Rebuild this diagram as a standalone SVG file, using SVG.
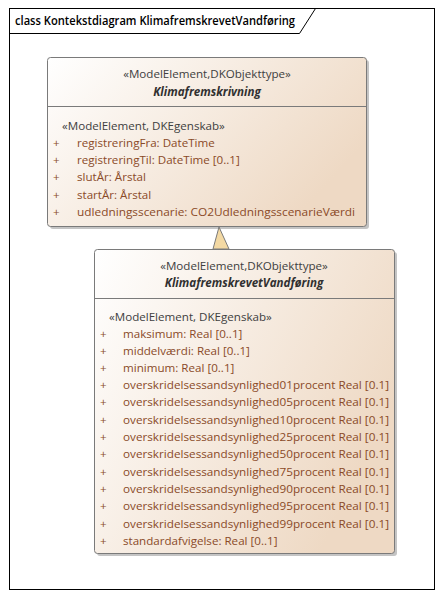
<svg xmlns="http://www.w3.org/2000/svg" width="443" height="598" viewBox="0 0 443 598">
<style>
text{font-family:"Open Sans","Noto Sans","Liberation Sans",sans-serif;font-size:11.6px}
.st{fill:#404040}
.nm{font-weight:bold;font-style:italic;fill:#303030}
.at{fill:#8a4a28}
.pl{fill:#8a4a28}
.box{fill:url(#g);stroke:#7a7a7a;stroke-width:1}
.sh{fill:#c4c4c4}
.div{stroke:#7a7a7a;stroke-width:1}
</style>
<defs>
<linearGradient id="g" x1="0" y1="0" x2="1" y2="0.5">
<stop offset="0" stop-color="#ffffff"/>
<stop offset="1" stop-color="#eed9c4"/>
</linearGradient>
</defs>
<rect x="0" y="0" width="443" height="598" fill="#ffffff"/>
<g id="frame">
<rect x="9.5" y="8.5" width="425" height="581" fill="none" stroke="#000" stroke-width="1"/>
<path d="M9.5 33.5 H299.5 L315.5 8.5" fill="none" stroke="#000" stroke-width="1"/>
<text x="15" y="25" style="font-weight:600;font-size:12px" fill="#000" textLength="280" lengthAdjust="spacingAndGlyphs">class Kontekstdiagram KlimafremskrevetVandføring</text>
</g>
<g id="Klimafremskrivning">
<rect class="sh" x="50" y="60" width="319" height="169" rx="3"/>
<rect class="box" x="47.5" y="57.5" width="319" height="169" rx="3"/>
<line class="div" x1="47.5" y1="106.5" x2="366.5" y2="106.5"/>
<text class="st" x="207" y="78" text-anchor="middle">«ModelElement,DKObjekttype»</text>
<text class="nm" x="207" y="96" text-anchor="middle">Klimafremskrivning</text>
<text class="st" x="62" y="130">«ModelElement, DKEgenskab»</text>
<text class="pl" x="53" y="147">+</text><text class="at" x="77" y="147">registreringFra: DateTime</text>
<text class="pl" x="53" y="164">+</text><text class="at" x="77" y="164">registreringTil: DateTime [0..1]</text>
<text class="pl" x="53" y="181">+</text><text class="at" x="77" y="181">slutÅr: Årstal</text>
<text class="pl" x="53" y="199">+</text><text class="at" x="77" y="199">startÅr: Årstal</text>
<text class="pl" x="53" y="216">+</text><text class="at" x="77" y="216" textLength="278" lengthAdjust="spacingAndGlyphs">udledningsscenarie: CO2UdledningsscenarieVærdi</text>
</g>
<g id="KlimafremskrevetVandforing">
<rect class="sh" x="97" y="252" width="300" height="304" rx="3"/>
<rect class="box" x="94.5" y="249.5" width="300" height="304" rx="3"/>
<line class="div" x1="94.5" y1="298.5" x2="394.5" y2="298.5"/>
<text class="st" x="244" y="270" text-anchor="middle">«ModelElement,DKObjekttype»</text>
<text class="nm" x="244" y="287" text-anchor="middle">KlimafremskrevetVandføring</text>
<text class="st" x="109" y="321">«ModelElement, DKEgenskab»</text>
<text class="pl" x="100" y="338">+</text><text class="at" x="123" y="338">maksimum: Real [0..1]</text>
<text class="pl" x="100" y="355">+</text><text class="at" x="123" y="355">middelværdi: Real [0..1]</text>
<text class="pl" x="100" y="372">+</text><text class="at" x="123" y="372">minimum: Real [0..1]</text>
<text class="pl" x="100" y="389">+</text><text class="at" x="123" y="389" textLength="266" lengthAdjust="spacingAndGlyphs">overskridelsessandsynlighed01procent Real [0.1]</text>
<text class="pl" x="100" y="406">+</text><text class="at" x="123" y="406" textLength="266" lengthAdjust="spacingAndGlyphs">overskridelsessandsynlighed05procent Real [0.1]</text>
<text class="pl" x="100" y="424">+</text><text class="at" x="123" y="424" textLength="266" lengthAdjust="spacingAndGlyphs">overskridelsessandsynlighed10procent Real [0.1]</text>
<text class="pl" x="100" y="441">+</text><text class="at" x="123" y="441" textLength="266" lengthAdjust="spacingAndGlyphs">overskridelsessandsynlighed25procent Real [0.1]</text>
<text class="pl" x="100" y="458">+</text><text class="at" x="123" y="458" textLength="266" lengthAdjust="spacingAndGlyphs">overskridelsessandsynlighed50procent Real [0.1]</text>
<text class="pl" x="100" y="476">+</text><text class="at" x="123" y="476" textLength="266" lengthAdjust="spacingAndGlyphs">overskridelsessandsynlighed75procent Real [0.1]</text>
<text class="pl" x="100" y="493">+</text><text class="at" x="123" y="493" textLength="266" lengthAdjust="spacingAndGlyphs">overskridelsessandsynlighed90procent Real [0.1]</text>
<text class="pl" x="100" y="510">+</text><text class="at" x="123" y="510" textLength="266" lengthAdjust="spacingAndGlyphs">overskridelsessandsynlighed95procent Real [0.1]</text>
<text class="pl" x="100" y="528">+</text><text class="at" x="123" y="528" textLength="266" lengthAdjust="spacingAndGlyphs">overskridelsessandsynlighed99procent Real [0.1]</text>
<text class="pl" x="100" y="545">+</text><text class="at" x="123" y="545">standardafvigelse: Real [0..1]</text>
</g>
<g id="connectors">
<polygon points="219,227 213,249 229,249" fill="#f3d9a4" stroke="#7a7a7a" stroke-width="1"/>
</g>
</svg>
